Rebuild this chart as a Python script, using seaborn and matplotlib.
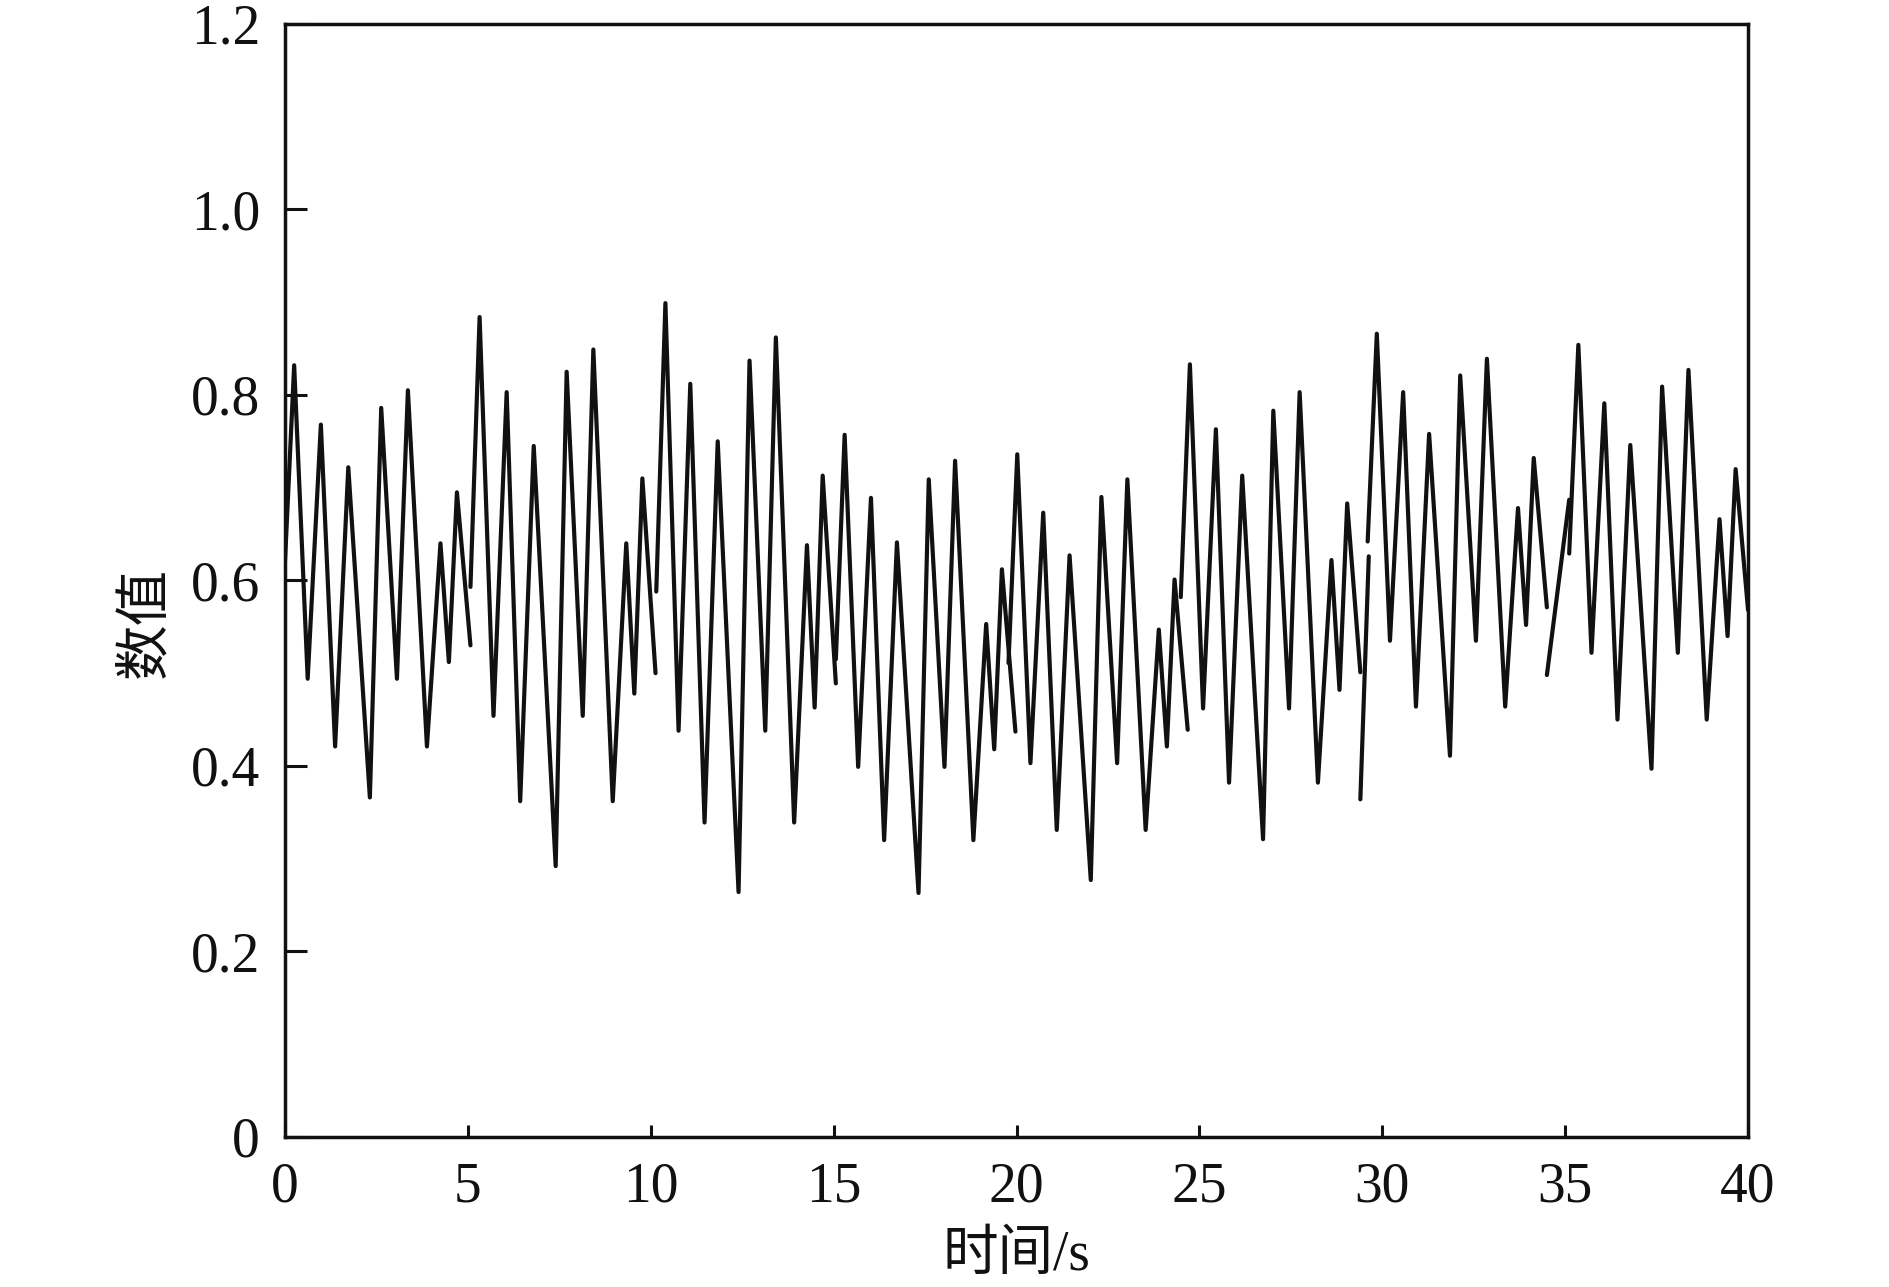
import numpy as np
import pandas as pd
import seaborn as sns
import matplotlib.pyplot as plt

# values, one list per line segment (the trace has breaks)
seg_ids = [1] * 15 + [2] * 15 + [3] * 15 + [4] * 15 + [5] * 15 + [6] * 15 + [7] * 2 + [8] * 15 + [9] * 2 + [10] * 15

time_s = [
    0.00, 0.25, 0.62, 0.98, 1.37, 1.73, 2.32, 2.63, 3.06, 3.36, 3.88, 4.25, 4.48, 4.70, 5.07,
    5.07, 5.32, 5.70, 6.06, 6.43, 6.80, 7.40, 7.70, 8.14, 8.43, 8.96, 9.33, 9.55, 9.77, 10.13,
    10.15, 10.40, 10.76, 11.08, 11.47, 11.83, 12.40, 12.70, 13.13, 13.42, 13.92, 14.27, 14.48, 14.70, 15.06,
    15.06, 15.30, 15.67, 16.02, 16.38, 16.73, 17.32, 17.60, 18.03, 18.32, 18.82, 19.17, 19.39, 19.60, 19.97,
    19.78, 20.02, 20.38, 20.73, 21.10, 21.45, 22.03, 22.32, 22.75, 23.03, 23.53, 23.89, 24.11, 24.32, 24.68,
    24.49, 24.74, 25.10, 25.45, 25.81, 26.17, 26.74, 27.02, 27.45, 27.74, 28.24, 28.61, 28.83, 29.04, 29.40,
    29.40, 29.63,
    29.60, 29.85, 30.21, 30.57, 30.92, 31.28, 31.85, 32.13, 32.56, 32.86, 33.36, 33.71, 33.93, 34.14, 34.50,
    34.50, 35.11,
    35.11, 35.36, 35.72, 36.07, 36.43, 36.78, 37.36, 37.65, 38.08, 38.37, 38.87, 39.22, 39.44, 39.66, 40.00,
]

values = [
    0.621, 0.832, 0.494, 0.768, 0.421, 0.722, 0.366, 0.786, 0.494, 0.805, 0.421, 0.640, 0.512, 0.695, 0.530,
    0.593, 0.884, 0.454, 0.803, 0.362, 0.745, 0.292, 0.825, 0.454, 0.849, 0.362, 0.640, 0.478, 0.710, 0.500,
    0.588, 0.899, 0.438, 0.812, 0.339, 0.750, 0.264, 0.837, 0.438, 0.862, 0.339, 0.638, 0.463, 0.713, 0.489,
    0.515, 0.757, 0.399, 0.689, 0.320, 0.641, 0.263, 0.709, 0.399, 0.729, 0.320, 0.553, 0.418, 0.612, 0.437,
    0.511, 0.736, 0.403, 0.673, 0.331, 0.627, 0.277, 0.690, 0.403, 0.709, 0.331, 0.547, 0.421, 0.601, 0.439,
    0.582, 0.833, 0.462, 0.763, 0.382, 0.713, 0.321, 0.783, 0.462, 0.803, 0.382, 0.622, 0.482, 0.683, 0.501,
    0.364, 0.626,
    0.642, 0.866, 0.535, 0.803, 0.464, 0.758, 0.411, 0.821, 0.535, 0.839, 0.464, 0.678, 0.552, 0.732, 0.571,
    0.498, 0.687,
    0.629, 0.854, 0.522, 0.791, 0.450, 0.746, 0.397, 0.809, 0.522, 0.827, 0.450, 0.666, 0.540, 0.720, 0.568,
]

x_ticks = [0, 5, 10, 15, 20, 25, 30, 35, 40]
y_ticks = [0, 0.2, 0.4, 0.6, 0.8, 1.0, 1.2]
y_tick_labels = ["0", "0.2", "0.4", "0.6", "0.8", "1.0", "1.2"]

df = pd.DataFrame({"seg": seg_ids, "time": time_s, "value": values})

sns.set_theme(style="white")
plt.rcParams["font.family"] = ["Liberation Serif", "Noto Sans CJK SC"]
plt.rcParams["axes.unicode_minus"] = False

fig, ax = plt.subplots(figsize=(18.9, 12.87), dpi=100)
fig.subplots_adjust(left=0.1508, right=0.9249, bottom=0.1166, top=0.9814)

sns.lineplot(data=df, x="time", y="value", units="seg", estimator=None, sort=False,
             color="#111111", linewidth=3.0, legend=False, ax=ax)

ax.set_xlim(0, 40)
ax.set_ylim(0, 1.2)
ax.set_xticks(x_ticks)
ax.set_xticklabels([str(t) for t in x_ticks])
ax.set_yticks(y_ticks)
ax.set_yticklabels(y_tick_labels)

for s in ax.spines.values():
    s.set_visible(True)
    s.set_color("#111111")
    s.set_linewidth(2.5)

ax.tick_params(axis="both", which="major", direction="in", labelsize=40,
               colors="#111111", width=2.2, bottom=True, left=True, top=False, right=False)
ax.tick_params(axis="y", length=16, pad=18)
ax.tick_params(axis="x", length=8.5, pad=18)

ax.set_xlabel("时间/s", fontsize=40, color="#111111")
ax.set_ylabel("数值", fontsize=40, color="#111111")
ax.xaxis.set_label_coords(0.5, -0.084)
ax.xaxis.label.set_va("top")
ax.yaxis.set_label_coords(-0.077, 0.462)
ax.grid(False)

fig.savefig("out.png", dpi=100, facecolor="white")
